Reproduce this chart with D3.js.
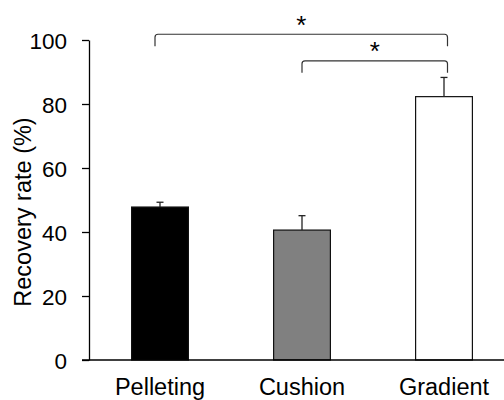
<!DOCTYPE html>
<html>
<head>
<meta charset="utf-8">
<script src="https://cdn.jsdelivr.net/npm/d3@7"></script>
<style>
  body { margin: 0; background: #fff; }
  text { font-family: Arial, "Liberation Sans", sans-serif; fill: #000; }
</style>
</head>
<body>
<svg></svg>
<script>
// data
var categories = ["Pelleting", "Cushion", "Gradient"];
var means = [47.8, 40.6, 82.3];
var errors = [1.5, 4.5, 6.0];
var fills = ["#000000", "#808080", "#ffffff"];
var yTicks = [0, 20, 40, 60, 80, 100];
// significance brackets: [from, to, level]
var brackets = [
  ["Pelleting", "Gradient", 101.8],
  ["Cushion", "Gradient", 93.5]
];

var width = 504, height = 400;
var svg = d3.select("svg").attr("width", width).attr("height", height);

var x0 = 89, y0 = 360;
var step = 142;
var x = d3.scaleBand()
  .domain(categories)
  .range([x0, x0 + step * categories.length])
  .paddingInner(0.6)
  .paddingOuter(0.3);
var y = d3.scaleLinear().domain([0, 100]).range([y0, 40]);

var data = categories.map((c, i) => ({ name: c, mean: means[i], err: errors[i], fill: fills[i] }));

// bars
svg.append("g").selectAll("rect")
  .data(data)
  .enter()
  .append("rect")
    .attr("x", d => x(d.name))
    .attr("y", d => y(d.mean))
    .attr("width", x.bandwidth())
    .attr("height", d => y(0) - y(d.mean))
    .attr("fill", d => d.fill)
    .attr("stroke", "#111")
    .attr("stroke-width", 1.2);

// error bars (upper only)
var eb = svg.append("g").selectAll("g")
  .data(data)
  .enter()
  .append("g")
    .attr("stroke", "#222")
    .attr("stroke-width", 1.3);
eb.append("line")
  .attr("x1", d => x(d.name) + x.bandwidth() / 2)
  .attr("x2", d => x(d.name) + x.bandwidth() / 2)
  .attr("y1", d => y(d.mean))
  .attr("y2", d => y(d.mean + d.err));
eb.append("line")
  .attr("x1", d => x(d.name) + x.bandwidth() / 2 - 3.5)
  .attr("x2", d => x(d.name) + x.bandwidth() / 2 + 3.5)
  .attr("y1", d => y(d.mean + d.err))
  .attr("y2", d => y(d.mean + d.err));

// y axis
var yAxis = d3.axisLeft(y).tickValues(yTicks).tickSize(7).tickSizeOuter(0).tickPadding(15);
var yg = svg.append("g").attr("transform", `translate(${x0},0)`).call(yAxis);
yg.select(".domain").attr("stroke", "#000").attr("stroke-width", 1.3);
yg.selectAll(".tick line").attr("stroke", "#000").attr("stroke-width", 1.3);
yg.selectAll(".tick text").style("font-size", "22.5px").attr("dy", "0.36em");

// x axis line
svg.append("line")
  .attr("x1", x0 - 7).attr("x2", x0 + step * categories.length)
  .attr("y1", y0).attr("y2", y0)
  .attr("stroke", "#000").attr("stroke-width", 1.3);

// category labels
svg.append("g").selectAll("text")
  .data(categories)
  .enter()
  .append("text")
    .attr("x", d => x(d) + x.bandwidth() / 2)
    .attr("y", 395)
    .attr("text-anchor", "middle")
    .style("font-size", "23.5px")
    .text(d => d);

// y label
svg.append("text")
  .attr("transform", "translate(31,212) rotate(-90)")
  .attr("text-anchor", "middle")
  .style("font-size", "23.5px")
  .text("Recovery rate (%)");

// brackets
var bg = svg.append("g").attr("fill", "none").attr("stroke", "#333").attr("stroke-width", 1.2);
brackets.forEach(b => {
  var xa = x(b[0]) + x.bandwidth() / 2 - (b[0] === "Pelleting" ? 5 : 0);
  var xb = x(b[1]) + x.bandwidth() / 2 + 3.5;
  var yl = y(b[2]);
  var drop = 12, r = 3;
  var p = d3.path();
  p.moveTo(xa, yl + drop);
  p.lineTo(xa, yl + r);
  p.quadraticCurveTo(xa, yl, xa + r, yl);
  p.lineTo(xb - r, yl);
  p.quadraticCurveTo(xb, yl, xb, yl + r);
  p.lineTo(xb, yl + drop);
  bg.append("path").attr("d", p.toString());
  svg.append("text")
    .attr("x", (xa + xb) / 2)
    .attr("y", yl - 0.5)
    .attr("text-anchor", "middle")
    .style("font-size", "26px")
    .text("*");
});
</script>
</body>
</html>
